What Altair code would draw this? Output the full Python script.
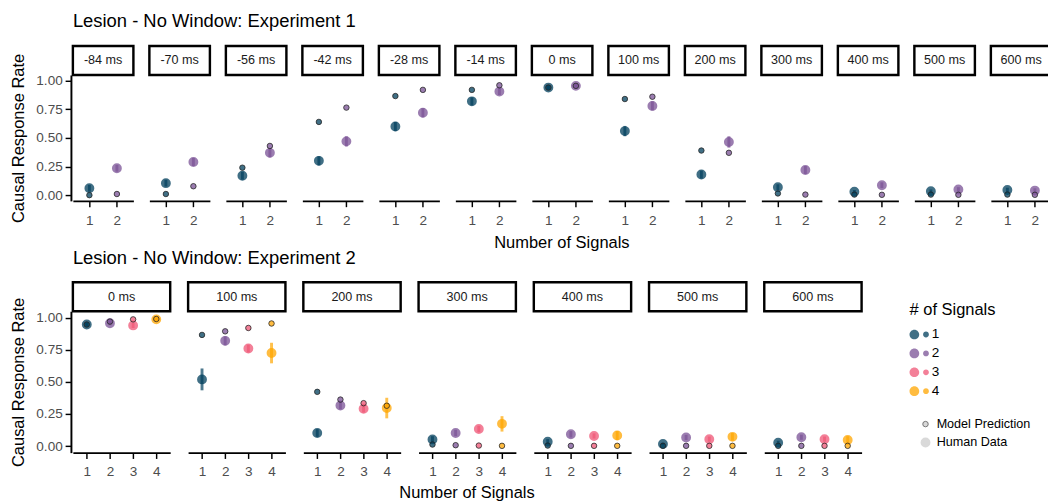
import altair as alt
import pandas as pd

FONT = "Liberation Sans"

# ---------------- Experiment 1 ----------------
delays1 = ["-84 ms", "-70 ms", "-56 ms", "-42 ms", "-28 ms", "-14 ms", "0 ms",
           "100 ms", "200 ms", "300 ms", "400 ms", "500 ms", "600 ms"]
human1_n1 = [0.06, 0.105, 0.17, 0.30, 0.60, 0.82, 0.94, 0.56, 0.18, 0.07, 0.03, 0.035, 0.045]
human1_n2 = [0.235, 0.29, 0.37, 0.47, 0.72, 0.905, 0.955, 0.78, 0.465, 0.22, 0.087, 0.05, 0.04]
model1_n1 = [0.00, 0.01, 0.24, 0.64, 0.866, 0.92, 0.94, 0.84, 0.39, 0.015, 0.005, 0.005, 0.005]
model1_n2 = [0.01, 0.078, 0.43, 0.765, 0.92, 0.96, 0.955, 0.86, 0.37, 0.005, 0.003, 0.003, 0.003]
se1_n1 = [0.03, 0.03, 0.035, 0.04, 0.04, 0.035, 0.02, 0.045, 0.035, 0.025, 0.015, 0.015, 0.02]
se1_n2 = [0.03, 0.035, 0.04, 0.045, 0.04, 0.03, 0.02, 0.04, 0.05, 0.035, 0.025, 0.02, 0.02]

# ---------------- Experiment 2 ----------------
delays2 = ["0 ms", "100 ms", "200 ms", "300 ms", "400 ms", "500 ms", "600 ms"]
human2_n1 = [0.947, 0.52, 0.103, 0.053, 0.035, 0.018, 0.028]
human2_n2 = [0.957, 0.82, 0.317, 0.103, 0.093, 0.068, 0.07]
human2_n3 = [0.94, 0.76, 0.292, 0.134, 0.08, 0.055, 0.055]
human2_n4 = [0.987, 0.725, 0.297, 0.174, 0.083, 0.073, 0.048]
model2_n1 = [0.947, 0.866, 0.423, 0.013, 0.005, 0.003, 0.003]
model2_n2 = [0.97, 0.894, 0.363, 0.008, 0.003, 0.003, 0.003]
model2_n3 = [0.987, 0.92, 0.335, 0.005, 0.003, 0.003, 0.003]
model2_n4 = [0.99, 0.955, 0.315, 0.003, 0.003, 0.003, 0.003]
se2_n1 = [0.015, 0.085, 0.03, 0.025, 0.02, 0.01, 0.015]
se2_n2 = [0.015, 0.035, 0.03, 0.025, 0.025, 0.02, 0.02]
se2_n3 = [0.02, 0.03, 0.03, 0.025, 0.02, 0.02, 0.02]
se2_n4 = [0.01, 0.08, 0.08, 0.06, 0.035, 0.03, 0.03]

signals = ["1", "2", "3", "4"]
palette = ["#003f5c", "#7a5195", "#ef5675", "#ffa600"]
yticks = [0, 0.25, 0.5, 0.75, 1.0]
types = ["Model Prediction", "Human Data"]


def build_df(delays, humans, models, ses):
    rows = []
    for k, (hs, ms, ss) in enumerate(zip(humans, models, ses), start=1):
        for d, h, m, s in zip(delays, hs, ms, ss):
            rows.append(dict(delay=d, n=k, sig=str(k), human=h, model=m,
                             lo=h - s, hi=h + s))
    return pd.DataFrame(rows)


df1 = build_df(delays1, [human1_n1, human1_n2], [model1_n1, model1_n2], [se1_n1, se1_n2])
df2 = build_df(delays2, [human2_n1, human2_n2, human2_n3, human2_n4],
               [model2_n1, model2_n2, model2_n3, model2_n4],
               [se2_n1, se2_n2, se2_n3, se2_n4])

LEG_PATH = ("M -1 0 A 0.5 0.5 0 1 1 0 0 A 0.5 0.5 0 1 1 -1 0 Z "
            "M 0.4 0 A 0.3 0.3 0 1 1 1 0 A 0.3 0.3 0 1 1 0.4 0 Z")

color_legend = alt.Legend(title="# of Signals", orient="none", legendX=864, legendY=235,
                          symbolType=LEG_PATH, symbolSize=400, symbolOpacity=0.75,
                          symbolStrokeWidth=0, titleFontSize=17, titleFontWeight="normal",
                          titleColor="black", labelFontSize=14, labelColor="black",
                          rowPadding=2.5, labelOffset=3, titlePadding=6)
type_legend = alt.Legend(title=None, orient="none", legendX=874, legendY=354,
                         symbolFillColor="#cccccc", symbolStrokeColor="#444444",
                         labelFontSize=13, labelColor="black", rowPadding=5, labelOffset=5)

color = alt.Color("sig:N", scale=alt.Scale(domain=signals, range=palette), legend=color_legend)
size = alt.Size("type:N", scale=alt.Scale(type="ordinal", domain=types, range=[32, 104]),
                legend=type_legend)
swidth = alt.StrokeWidth("type:N", scale=alt.Scale(type="ordinal", domain=types, range=[1, 0]),
                         legend=type_legend)


def make_panel(df, delays, W, H, ticks, title, spacing, xtitle_pad):
    xmax = len(ticks) + 0.6
    x = alt.X("n:Q", scale=alt.Scale(domain=[0.4, xmax], nice=False, zero=False),
              axis=alt.Axis(values=ticks, format="d", title=None))
    ysc = alt.Scale(domain=[-0.05, 1.05], nice=False, zero=False)
    yax = alt.Axis(values=yticks, format=".2f", title="Causal Response Rate")
    base = alt.Chart()
    human = base.mark_point(filled=True, opacity=0.75).encode(
        x=x, y=alt.Y("human:Q", scale=ysc, axis=yax, title="Causal Response Rate"),
        color=color, size=size, strokeWidth=swidth
    ).transform_calculate(type='"Human Data"')
    err = base.mark_rule(strokeWidth=3, opacity=0.7).encode(
        x=x, y=alt.Y("lo:Q", scale=ysc, axis=yax, title="Causal Response Rate"),
        y2="hi:Q", color=color
    )
    model = base.mark_point(filled=True, fillOpacity=0.75, stroke="#222222",
                            strokeOpacity=0.8).encode(
        x=x, y=alt.Y("model:Q", scale=ysc, axis=yax, title="Causal Response Rate"),
        color=color, size=size, strokeWidth=swidth
    ).transform_calculate(type='"Model Prediction"')
    strip = base.mark_rect(fill="white", stroke="black", strokeWidth=2.5).encode(
        x=alt.value(0), x2=alt.value(W), y=alt.value(-30), y2=alt.value(0)
    ).transform_filter("datum.n == 1")
    label = base.mark_text(fontSize=13, font=FONT, color="#1a1a1a").encode(
        x=alt.value(W / 2), y=alt.value(-15), text="delay:N"
    ).transform_filter("datum.n == 1")
    layer = alt.layer(human, err, model, strip, label).properties(width=W, height=H)
    return layer.facet(
        column=alt.Column("delay:N", sort=delays, title="Number of Signals",
                          header=alt.Header(labels=False, titleOrient="bottom",
                                            titleFontSize=17, titleFontWeight="normal",
                                            titleColor="black", titleFont=FONT,
                                            titlePadding=xtitle_pad)),
        data=df, spacing=spacing
    ).properties(title=alt.TitleParams(title, anchor="start", frame="group", fontSize=19,
                                       fontWeight="normal", color="black", font=FONT,
                                       offset=14))


c1 = make_panel(df1, delays1, 62.5, 130, [1, 2], "Lesion - No Window: Experiment 1", 13.0, -1)
c2 = make_panel(df2, delays2, 100.5, 146, [1, 2, 3, 4], "Lesion - No Window: Experiment 2",
                15.0, -3)

chart = alt.vconcat(c1, c2, spacing=-3).properties(
    padding={"left": 1, "top": -4, "right": -5, "bottom": 0}
).configure(font=FONT).configure_view(stroke=None).configure_axis(
    grid=False, domainColor="black", domainWidth=2, tickColor="black", tickWidth=1.5,
    tickSize=6, labelColor="#4d4d4d", labelFontSize=14, titleFontSize=17,
    titleFontWeight="normal", titleColor="black", labelFont=FONT, titleFont=FONT
).configure_axisY(labelPadding=3, titlePadding=9).configure_axisX(labelPadding=7)

chart.save("out.html", embed_options={"renderer": "svg", "actions": False})
